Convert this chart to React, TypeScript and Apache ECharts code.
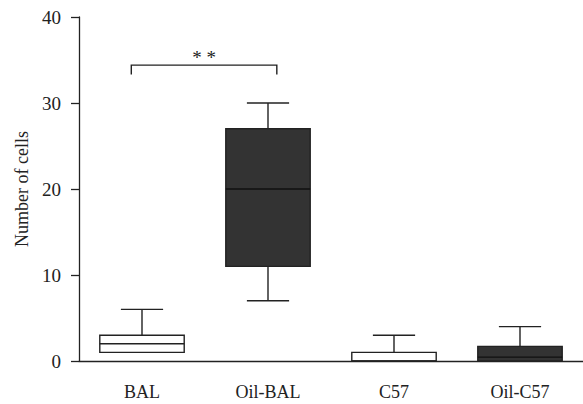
import React, { useEffect, useRef } from "react";
import * as echarts from "echarts";

const categories = ["BAL", "Oil-BAL", "C57", "Oil-C57"];
const mins = [1, 7, 0, 0];
const q1s = [1, 11, 0, 0];
const medians = [2, 20, 0, 0.45];
const q3s = [3, 27, 1, 1.7];
const maxs = [6, 30, 3, 4];
const dark = [false, true, false, true];
const yTicks = [0, 10, 20, 30, 40];
const bracket = { from: 0, to: 1, y: 34.4, drop: 1.1, label: "* *" };

const FONT = "'Liberation Serif', 'DejaVu Serif', serif";
const INK = "#222";
const DARK_FILL = "#333";

export default function App() {
  const ref = useRef<HTMLDivElement>(null);
  useEffect(() => {
    if (!ref.current) return;
    const chart = echarts.init(ref.current, undefined, { renderer: "svg" });
    const boxData = categories.map((_, i) => [i, mins[i], q1s[i], medians[i], q3s[i], maxs[i], dark[i] ? 1 : 0]);
    chart.setOption({
      animation: false,
      grid: { left: 79, top: 17, bottom: 43, right: -10, containLabel: false },
      xAxis: {
        type: "category",
        data: categories,
        boundaryGap: true,
        axisLine: { lineStyle: { color: INK, width: 1.3 } },
        axisTick: { alignWithLabel: true, length: 8, lineStyle: { color: INK, width: 1.3 } },
        axisLabel: { fontFamily: FONT, fontSize: 18, color: INK, margin: 22 },
        splitLine: { show: false },
      },
      yAxis: {
        type: "value",
        min: yTicks[0],
        max: yTicks[yTicks.length - 1],
        interval: 10,
        name: "Number of cells",
        nameLocation: "middle",
        nameGap: 48,
        nameTextStyle: { fontFamily: FONT, fontSize: 18, color: INK },
        axisLine: { show: true, lineStyle: { color: INK, width: 1.3 } },
        axisTick: { show: true, length: 8, lineStyle: { color: INK, width: 1.3 } },
        axisLabel: { fontFamily: FONT, fontSize: 19, color: INK, margin: 18 },
        splitLine: { show: false },
      },
      series: [
        {
          type: "custom",
          data: boxData,
          encode: { x: 0, y: [1, 2, 3, 4, 5] },
          renderItem: (params: any, api: any) => {
            const i = api.value(0);
            const band = api.size([1, 0])[0];
            const bw = band * 0.67;
            const cx = api.coord([i, 0])[0];
            const py = (v: number) => api.coord([i, v])[1];
            const yMin = py(api.value(1));
            const yQ1 = py(api.value(2));
            const yMed = py(api.value(3));
            const yQ3 = py(api.value(4));
            const yMax = py(api.value(5));
            const isDark = api.value(6) === 1;
            const ls = { stroke: INK, lineWidth: 1.4 };
            const cap = bw / 4;
            const children: any[] = [
              { type: "line", shape: { x1: cx, y1: yQ3, x2: cx, y2: yMax }, style: ls },
              { type: "line", shape: { x1: cx - cap, y1: yMax, x2: cx + cap, y2: yMax }, style: ls },
            ];
            if (yMin > yQ1 + 0.5) {
              children.push(
                { type: "line", shape: { x1: cx, y1: yQ1, x2: cx, y2: yMin }, style: ls },
                { type: "line", shape: { x1: cx - cap, y1: yMin, x2: cx + cap, y2: yMin }, style: ls }
              );
            }
            children.push(
              {
                type: "rect",
                shape: { x: cx - bw / 2, y: yQ3, width: bw, height: yQ1 - yQ3 },
                style: { fill: isDark ? DARK_FILL : "#fff", stroke: INK, lineWidth: 1.4 },
              },
              { type: "line", shape: { x1: cx - bw / 2, y1: yMed, x2: cx + bw / 2, y2: yMed }, style: { stroke: isDark ? "#111" : INK, lineWidth: 1.4 } }
            );
            return { type: "group", children };
          },
          z: 1,
        },
        {
          type: "custom",
          data: [[bracket.from, bracket.to, bracket.y, bracket.drop]],
          encode: { x: [0, 1], y: 2 },
          renderItem: (params: any, api: any) => {
            const a = api.value(0);
            const b = api.value(1);
            const yv = api.value(2);
            const d = api.value(3);
            const band = api.size([1, 0])[0];
            const x1 = api.coord([a, yv])[0] - band * 0.085;
            const x2 = api.coord([b, yv])[0] + band * 0.07;
            const y = api.coord([a, yv])[1];
            const y2 = api.coord([a, yv - d])[1];
            return {
              type: "group",
              children: [
                {
                  type: "polyline",
                  shape: { points: [[x1, y2], [x1, y], [x2, y], [x2, y2]] },
                  style: { stroke: INK, lineWidth: 1.4, fill: "none" },
                },
                {
                  type: "text",
                  x: (x1 + x2) / 2,
                  y: y + 2,
                  style: { text: bracket.label, fontFamily: FONT, fontSize: 19, fill: INK, align: "center", verticalAlign: "bottom" },
                },
              ],
            };
          },
          z: 2,
        },
      ],
    });
    return () => chart.dispose();
  }, []);
  return <div ref={ref} style={{ width: 583, height: 404, position: "absolute", left: 0, top: 0 }} />;
}
